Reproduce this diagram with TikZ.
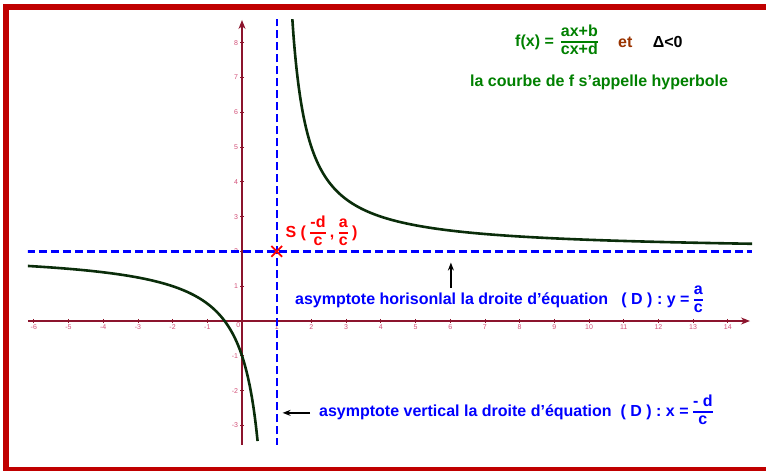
\documentclass[tikz,border=0pt]{standalone}
\usepackage{fontspec}
\setmainfont{Liberation Sans}
\usetikzlibrary{arrows.meta,positioning,shapes.misc}
\definecolor{FrameRed}{RGB}{192,0,0}
\definecolor{AxisRed}{RGB}{140,20,45}
\definecolor{TickPink}{RGB}{210,80,120}
\definecolor{AsymBlue}{RGB}{0,0,255}
\definecolor{CurveGreen}{RGB}{10,45,10}
\definecolor{TitleGreen}{RGB}{0,128,0}
\definecolor{EtBrown}{RGB}{153,51,0}
\definecolor{PointRed}{RGB}{255,0,0}
\setlength{\arrayrulewidth}{1.6pt}
\newcommand{\frc}[2]{$\vcenter{\hbox{\begin{tabular}{@{}c@{}}#1\\\hline #2\end{tabular}}}$}
\tikzset{
  axis/.style={AxisRed,line width=1.2pt},
  axisarr/.style={axis,-{Stealth[length=9pt,width=7pt]}},
  tickmark/.style={AxisRed,line width=0.8pt},
  ticklab/.style={TickPink,font=\fontsize{7}{8}\selectfont,inner sep=1.5pt},
  asym/.style={AsymBlue,line width=2.4pt,dash pattern=on 8pt off 4pt},
  curvepath/.style={CurveGreen,line width=2.6pt},
  gtext/.style={TitleGreen,font=\fontsize{16}{17}\selectfont\bfseries,inner sep=1pt},
  btext/.style={AsymBlue,font=\fontsize{16}{17}\selectfont\bfseries,inner sep=1pt,anchor=west},
  rtext/.style={PointRed,font=\fontsize{16}{17}\selectfont\bfseries,inner sep=1pt,anchor=west},
  arr/.style={-{Stealth[length=8pt,width=6pt]},black,line width=1.6pt},
}
\begin{document}
\begin{tikzpicture}[x=1pt,y=-1pt]
\useasboundingbox (0,0) rectangle (766,471);
% frame
\draw[FrameRed,line width=6pt] (772,7) -- (6,7) -- (6,470) -- (772,470);

% graph
\begin{scope}[shift={(242,321)},x=34.7pt,y=34.8pt]
  \begin{scope}
    \clip (-6.17,-3.56) rectangle (14.7,8.65);
    \draw[axisarr] (-6.17,0) -- (14.64,0);
    \draw[axisarr] (0,-3.6) -- (0,8.65);
    \foreach \i in {-6,...,-1,1,2,...,14}
      \draw[tickmark] (\i,0.06) -- (\i,-0.06) node[ticklab,below] {\i};
    \foreach \j in {-3,...,-1,1,2,...,8}
      \draw[tickmark] (0.06,\j) -- (-0.06,\j) node[ticklab,left] {\j};
    \node[ticklab,below left] (o) at (0,0) {0};
    \draw[asym] (1,-3.6) -- (1,8.7);
    \draw[asym] (-6.2,2) -- (14.7,2);
    \draw[curvepath] plot[domain=-6.2:0.45,samples=120,smooth] (\x,{2+3/(\x-1)});
    \draw[curvepath] plot[domain=1.42:14.7,samples=200,smooth] (\x,{2+3/(\x-1)});
  \end{scope}
  \node[cross out,draw=PointRed,line width=1.8pt,minimum size=9pt,inner sep=0pt] (S) at (1,2) {};
  \node[rtext] (slab) at (1.22,2.53) {S ( \frc{-d}{c} , \frc{a}{c} )};
  \coordinate (hs) at (6.02,0.95);
  \coordinate (ht) at (6.02,1.68);
  \coordinate (vs) at (1.96,-2.64);
  \coordinate (vt) at (1.17,-2.64);
  \draw[arr] (hs) -- (ht);
  \draw[arr] (vs) -- (vt);
\end{scope}

% texts
\node[gtext,anchor=west] (f) at (514,42) {f(x) =\hspace{7pt}\frc{ax+b}{cx+d}};
\node[gtext,EtBrown,right=18pt of f] (et) {et};
\node[gtext,black,right=18pt of et] (delta) {Δ<0};
\node[gtext,anchor=west] (courbe) at (469,82) {la courbe de f s'appelle hyperbole};
\node[btext] (hor) at (294,300) {asymptote horisonlal la droite d'équation\ \ \ ( D ) : y = \frc{a}{c}};
\node[btext] (ver) at (318,412) {asymptote vertical la droite d'équation\ \ ( D ) : x = \frc{- d}{c}};
\end{tikzpicture}
\end{document}
